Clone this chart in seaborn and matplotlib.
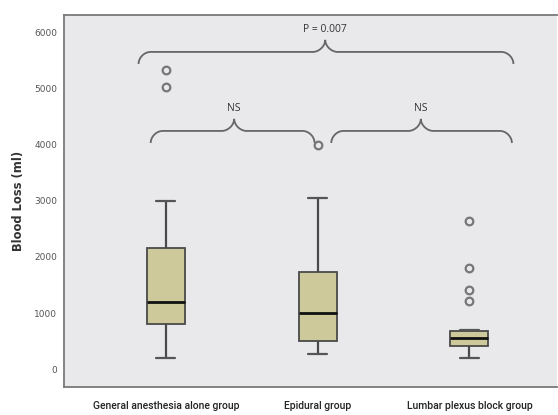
import pandas as pd
import seaborn as sns
import matplotlib.pyplot as plt
from matplotlib.path import Path
from matplotlib.patches import PathPatch

# group labels
groups = ['General anesthesia alone group', 'Epidural group', 'Lumbar plexus block group']

# blood loss values (ml)
general = [200, 450, 650, 800, 950, 1100, 1200, 1500, 1800, 2160, 3000, 5040, 5340]
epidural = [270, 350, 420, 500, 700, 850, 1000, 1200, 1450, 1730, 2400, 3050, 4000]
lumbar = [200, 280, 330, 370, 390, 410, 440, 470, 500, 530, 555, 580, 610, 640,
          660, 680, 700, 1210, 1410, 1800, 2650]

# comparison braces: (left end, right end, tip, height, label)
comparisons = [
    (-0.10, 0.98, 0.45, 4250, 'NS'),
    (1.09, 2.28, 1.68, 4250, 'NS'),
    (-0.18, 2.29, 1.05, 5660, 'P = 0.007'),
]

df = pd.DataFrame({
    'group': [groups[0]] * len(general) + [groups[1]] * len(epidural) + [groups[2]] * len(lumbar),
    'loss': general + epidural + lumbar,
})

sns.set_style('white')
plt.rcParams['font.family'] = ['Open Sans', 'DejaVu Sans']

fig = plt.figure(figsize=(5.58, 4.15), dpi=100)
ax = fig.add_axes([0.115, 0.0675, 0.884, 0.8965])
ax.set_facecolor('#e9e9ec')

sns.boxplot(data=df, x='group', y='loss', ax=ax, color='#cdc99a', saturation=1,
            width=0.25, linecolor='#4a4a4a', linewidth=1.3,
            medianprops=dict(color='#111111', linewidth=2),
            whiskerprops=dict(linewidth=1.6, color='#4a4a4a'),
            capprops=dict(linewidth=1.6, color='#555555'),
            flierprops=dict(marker='o', markersize=5.5, markerfacecolor='none',
                            markeredgecolor='#777777', markeredgewidth=1.6))


def brace(ax, x0, x1, xt, yb, label):
    r = 0.08
    h = 215
    verts = [
        (x0, yb - h), (x0, yb - 0.5 * h), (x0 + 0.45 * r, yb), (x0 + r, yb),
        (xt - r, yb),
        (xt - 0.55 * r, yb), (xt, yb + 0.45 * h), (xt, yb + h),
        (xt, yb + 0.45 * h), (xt + 0.55 * r, yb), (xt + r, yb),
        (x1 - r, yb),
        (x1 - 0.45 * r, yb), (x1, yb - 0.5 * h), (x1, yb - h),
    ]
    codes = [Path.MOVETO, Path.CURVE4, Path.CURVE4, Path.CURVE4,
             Path.LINETO,
             Path.CURVE4, Path.CURVE4, Path.CURVE4,
             Path.CURVE4, Path.CURVE4, Path.CURVE4,
             Path.LINETO,
             Path.CURVE4, Path.CURVE4, Path.CURVE4]
    ax.add_patch(PathPatch(Path(verts, codes), fill=False, edgecolor='#666666', linewidth=1.3))
    ax.text(xt, yb + h + 180, label, ha='center', va='center', fontsize=7.5, color='#333333')


for x0, x1, xt, y, lab in comparisons:
    brace(ax, x0, x1, xt, y, lab)

ax.set_xlim(-0.67, 2.58)
ax.set_ylim(-320, 6320)
ax.set_yticks([0, 1000, 2000, 3000, 4000, 5000, 6000])
ax.set_xlabel('')
ax.set_ylabel('Blood Loss (ml)', fontsize=8.3, fontweight='bold', color='#333333',
              family=['DejaVu Sans'], labelpad=7)

ax.tick_params(axis='y', direction='out', length=4, width=1, color='#777777',
               labelsize=6.5, labelcolor='#555555', pad=1)
ax.tick_params(axis='x', direction='out', length=3, width=1, color='#777777',
               labelsize=7.5, labelcolor='#222222', pad=7)
for lbl in ax.get_xticklabels():
    lbl.set_family(['Roboto', 'DejaVu Sans'])
    lbl.set_fontweight('medium')
for lbl in ax.get_yticklabels():
    lbl.set_family(['DejaVu Sans'])

for side in ['left', 'top', 'bottom']:
    ax.spines[side].set_visible(True)
    ax.spines[side].set_color('#7a7a7a')
    ax.spines[side].set_linewidth(1.3)
ax.spines['right'].set_visible(False)

fig.savefig('out.png', dpi=100)
